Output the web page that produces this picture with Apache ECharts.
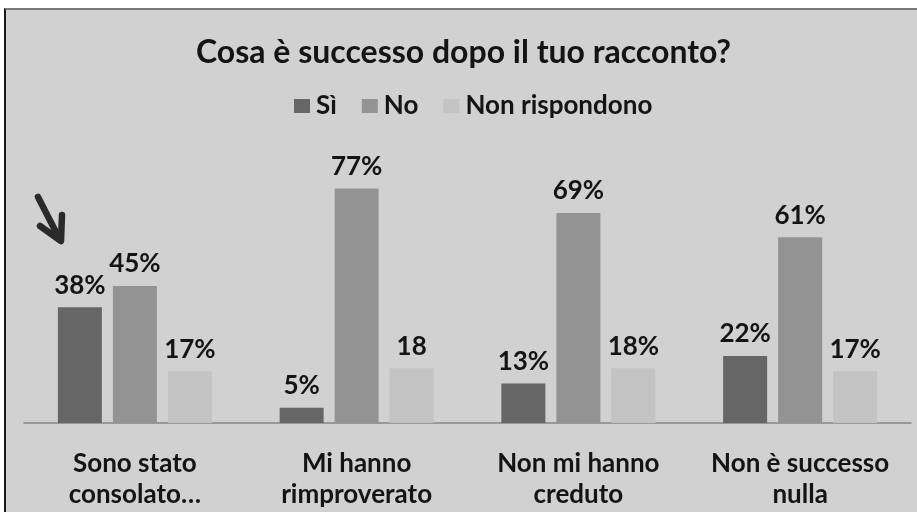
<!DOCTYPE html>
<html>
<head>
<meta charset="utf-8">
<script src="https://cdn.jsdelivr.net/npm/echarts@6/dist/echarts.min.js"></script>
<style>
  html, body { margin: 0; padding: 0; background: #ffffff; }
  #panel {
    position: absolute; left: 4px; top: 8px; width: 911px; height: 504px;
    background: #d1d1d1; border-left: 2px solid #1a1a1a; border-top: 2px solid #7a7a7a;
  }
  #chart { position: absolute; left: 0; top: 0; width: 917px; height: 512px; }
</style>
</head>
<body>
<div id="panel"></div>
<div id="chart"></div>
<script>
// Answers grouped by what happened after telling someone
const categories = ['Sono stato\nconsolato…', 'Mi hanno\nrimproverato', 'Non mi hanno\ncreduto', 'Non è successo\nnulla'];
const siValues = [38, 5, 13, 22];
const noValues = [45, 77, 69, 61];
const nonRispValues = [17, 18, 18, 17];
// suffix shown after each "Non rispondono" value (one label was printed without %)
const nonRispSuffix = ['%', '', '%', '%'];
const seriesNames = ['Sì', 'No', 'Non rispondono'];
const titleText = 'Cosa è successo dopo il tuo racconto?';

const FONT = 'Lato';
const labelStyle = {
  show: true, position: 'top', distance: 9,
  color: '#141414', fontFamily: FONT, fontWeight: 'bold', fontSize: 26
};

const chart = echarts.init(document.getElementById('chart'), null, { renderer: 'canvas' });
chart.setOption({
  backgroundColor: 'transparent',
  animation: false,
  title: {
    text: titleText, left: 191, top: 32,
    textStyle: { fontFamily: FONT, fontWeight: 'bold', fontSize: 32, color: '#141414' }
  },
  legend: {
    data: seriesNames, top: 88, left: 289,
    itemWidth: 16, itemHeight: 14, itemGap: 25, icon: 'rect',
    textStyle: { fontFamily: FONT, fontWeight: 'bold', fontSize: 26, color: '#141414', padding: [0, 0, 0, 1] }
  },
  grid: { left: 24, right: 6, top: 149, bottom: 89 },
  xAxis: {
    type: 'category', data: categories,
    axisLine: { lineStyle: { color: '#858585', width: 1.5 } },
    axisTick: { show: false },
    axisLabel: {
      interval: 0, margin: 25, lineHeight: 31,
      fontFamily: FONT, fontWeight: 'bold', fontSize: 26, color: '#141414'
    }
  },
  yAxis: { type: 'value', min: 0, max: 90, show: false, splitLine: { show: false } },
  series: [
    {
      name: seriesNames[0], type: 'bar', data: siValues, barWidth: 44, barGap: '25%',
      itemStyle: { color: '#666666' },
      label: Object.assign({}, labelStyle, { formatter: p => p.value + '%' })
    },
    {
      name: seriesNames[1], type: 'bar', data: noValues, barWidth: 44, barGap: '25%',
      itemStyle: { color: '#939393' },
      label: Object.assign({}, labelStyle, { formatter: p => p.value + '%' })
    },
    {
      name: seriesNames[2], type: 'bar', data: nonRispValues, barWidth: 44, barGap: '25%',
      itemStyle: { color: '#c3c3c3' },
      label: Object.assign({}, labelStyle, { formatter: p => p.value + nonRispSuffix[p.dataIndex] })
    }
  ],
  graphic: [
    {
      type: 'group',
      children: [
        { type: 'line', shape: { x1: 38, y1: 197, x2: 60, y2: 240 },
          style: { stroke: '#2a2a2a', lineWidth: 6.5, lineCap: 'round' } },
        { type: 'polyline', shape: { points: [[40, 226], [61, 241], [62, 215]] },
          style: { stroke: '#2a2a2a', lineWidth: 6.5, lineCap: 'round', lineJoin: 'round', fill: null } }
      ]
    }
  ]
});
</script>
</body>
</html>
